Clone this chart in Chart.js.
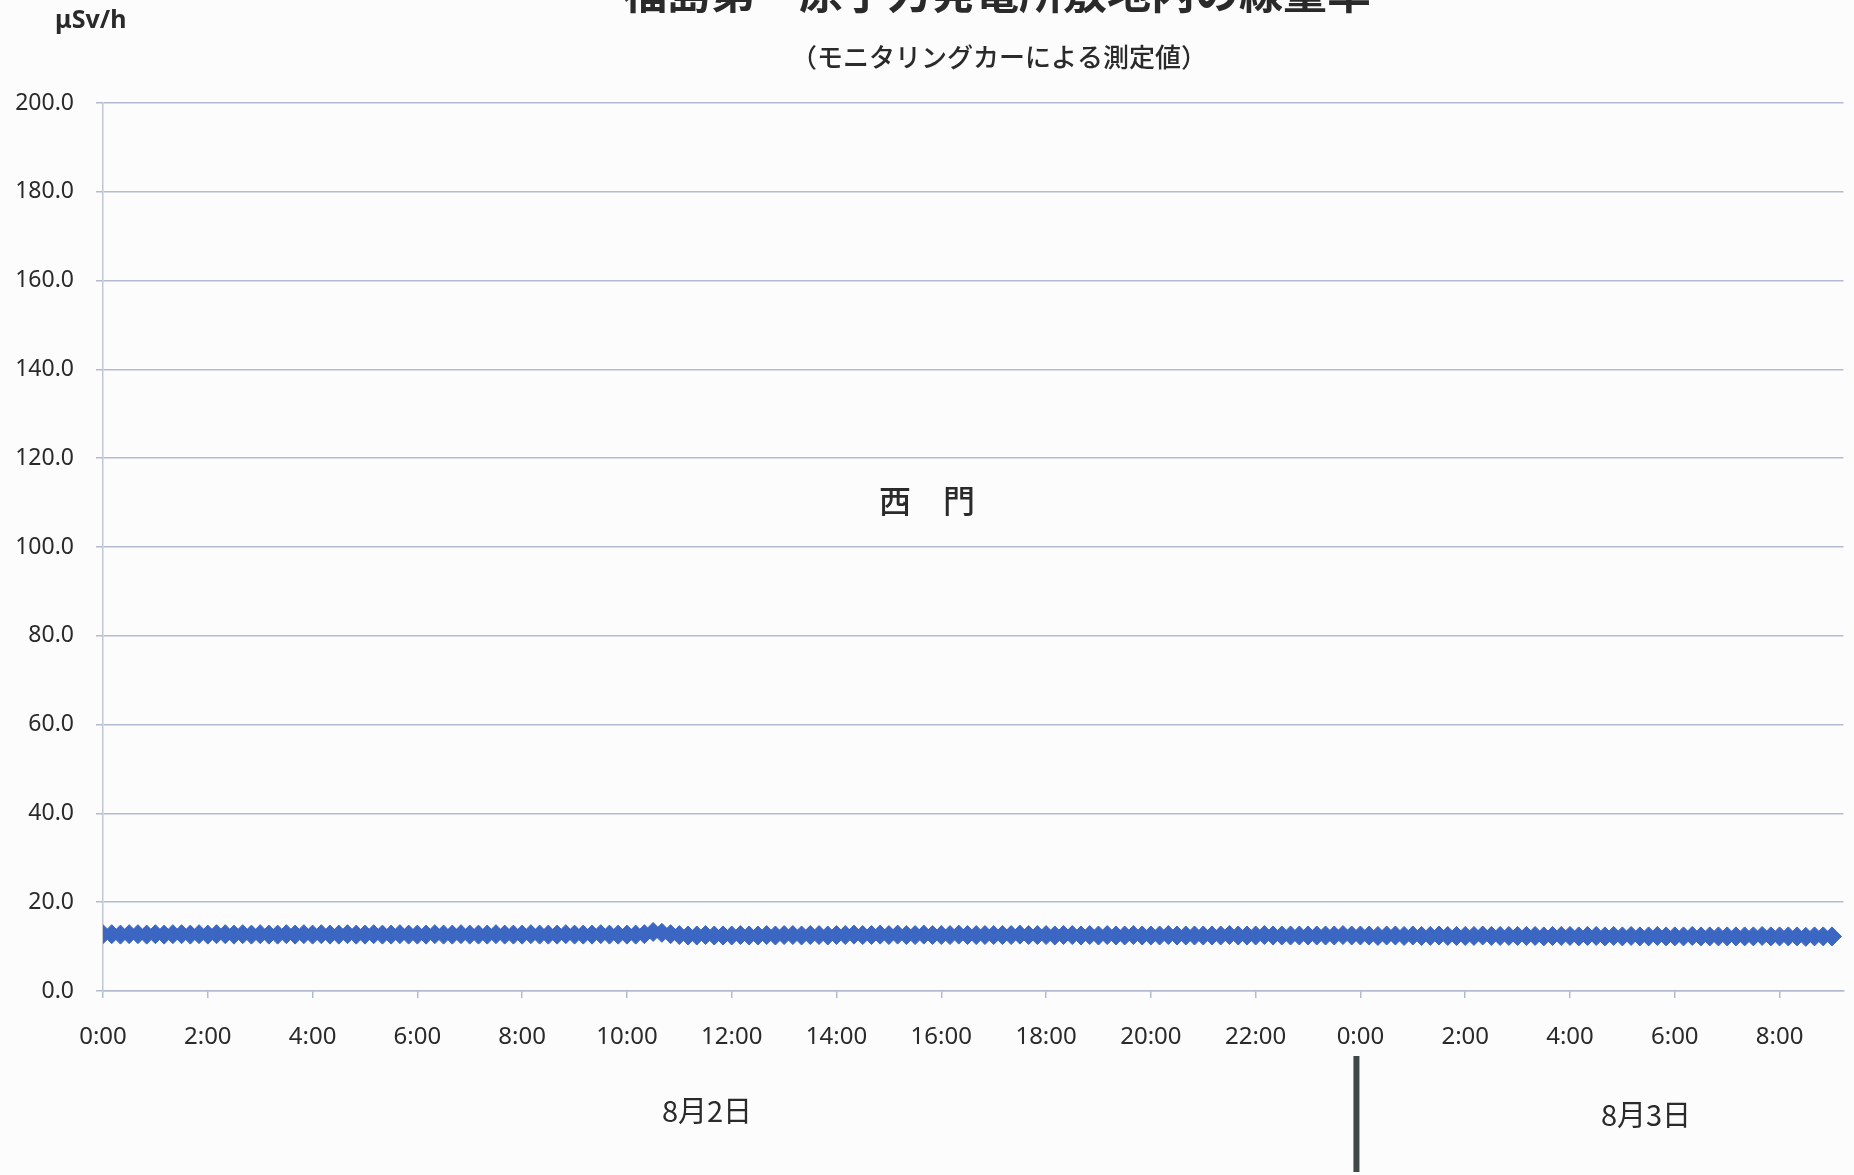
<!DOCTYPE html>
<html>
<head>
<meta charset="utf-8">
<script src="https://cdn.jsdelivr.net/npm/chart.js@4"></script>
<style>
  html, body { margin: 0; padding: 0; background: #fcfcfd; }
  #wrap { width: 1854px; height: 1175px; }
</style>
</head>
<body>
<div id="wrap"><canvas id="doseChart" width="1854" height="1175"></canvas></div>
<script>
// 線量率 (μSv/h), one reading every 10 minutes
// 8/2 0:00 - 23:50, one row per hour
const aug2Rates = [
  12.8, 12.8, 12.7, 12.8, 12.8, 12.7,
  12.8, 12.7, 12.8, 12.8, 12.7, 12.8,
  12.7, 12.8, 12.8, 12.7, 12.8, 12.7,
  12.8, 12.7, 12.7, 12.8, 12.7, 12.8,
  12.7, 12.8, 12.7, 12.7, 12.8, 12.7,
  12.7, 12.8, 12.7, 12.7, 12.8, 12.7,
  12.7, 12.7, 12.8, 12.7, 12.7, 12.8,
  12.7, 12.7, 12.7, 12.8, 12.7, 12.7,
  12.7, 12.8, 12.7, 12.7, 12.7, 12.8,
  12.7, 12.7, 12.7, 12.8, 12.7, 12.7,
  12.7, 12.7, 12.8, 13.3, 13.1, 12.8,
  12.6, 12.5, 12.5, 12.6, 12.5, 12.5,
  12.5, 12.6, 12.5, 12.5, 12.6, 12.5,
  12.6, 12.6, 12.5, 12.6, 12.6, 12.5,
  12.6, 12.6, 12.7, 12.6, 12.6, 12.7,
  12.6, 12.7, 12.6, 12.6, 12.7, 12.6,
  12.6, 12.6, 12.7, 12.6, 12.6, 12.6,
  12.6, 12.6, 12.6, 12.7, 12.6, 12.6,
  12.6, 12.5, 12.6, 12.6, 12.5, 12.6,
  12.5, 12.6, 12.5, 12.5, 12.6, 12.5,
  12.5, 12.5, 12.6, 12.5, 12.5, 12.5,
  12.5, 12.5, 12.5, 12.6, 12.5, 12.5,
  12.5, 12.6, 12.5, 12.5, 12.5, 12.5,
  12.5, 12.5, 12.5, 12.5, 12.6, 12.5
];
// 8/3 0:00 - 9:00
const aug3Rates = [
  12.5, 12.5, 12.4, 12.5, 12.5, 12.4,
  12.5, 12.4, 12.4, 12.5, 12.4, 12.4,
  12.4, 12.4, 12.5, 12.4, 12.4, 12.4,
  12.4, 12.4, 12.4, 12.3, 12.4, 12.4,
  12.4, 12.3, 12.4, 12.4, 12.3, 12.4,
  12.3, 12.4, 12.3, 12.3, 12.4, 12.3,
  12.3, 12.3, 12.4, 12.3, 12.3, 12.3,
  12.3, 12.3, 12.3, 12.3, 12.4, 12.3,
  12.3, 12.3, 12.3, 12.2, 12.3, 12.3,
  12.3
];
const stepMinutes = 10;

// axis labels, one every 2 hours
const tickLabels = ['0:00', '2:00', '4:00', '6:00', '8:00', '10:00', '12:00', '14:00', '16:00',
  '18:00', '20:00', '22:00', '0:00', '2:00', '4:00', '6:00', '8:00'];
const yTicks = [0, 20, 40, 60, 80, 100, 120, 140, 160, 180, 200];

const titleText = '福島第一原子力発電所敷地内の線量率';
const subtitleText = '（モニタリングカーによる測定値）';
const placeText = '西　門';
const dayLabels = ['8月2日', '8月3日'];

// build points: x in hours since 8/2 0:00
const allRates = aug2Rates.concat(aug3Rates);
const points = allRates.map((v, i) => ({ x: i * stepMinutes / 60, y: v }));

const gridColor = '#b3bbd0';
const jpFont = '"Noto Sans CJK JP", "Noto Sans", sans-serif';
const numFont = '"Noto Sans", "DejaVu Sans", sans-serif';

const textPlugin = {
  id: 'extraText',
  afterDraw(chart) {
    const c = chart.ctx;
    const x = chart.scales.x;
    c.save();
    c.fillStyle = '#2a2a2a';
    c.textAlign = 'center';
    c.textBaseline = 'middle';

    // title, cut off at the top edge like the scan
    c.font = 'bold 44px ' + jpFont;
    c.fillText(titleText, 997, -8);

    c.font = '500 26px ' + jpFont;
    c.fillText(subtitleText, 999, 57);

    c.font = 'bold 25px ' + numFont;
    c.textAlign = 'left';
    c.fillText('μSv/h', 55, 21);

    c.textAlign = 'center';
    c.font = '500 32px ' + jpFont;
    c.fillText(placeText, 927, 501);

    c.font = '29px ' + jpFont;
    c.fillText(dayLabels[0], 707, 1111);
    c.fillText(dayLabels[1], 1646, 1115);

    // day separator
    const sepX = x.getPixelForValue(24) - 4;
    c.fillStyle = '#3e4848';
    c.fillRect(sepX - 3, 1056, 6, 116);
    c.restore();
  }
};

const ctx = document.getElementById('doseChart').getContext('2d');
const doseChart = new Chart(ctx, {
  type: 'line',
  data: {
    datasets: [{
      label: '西門',
      data: points,
      borderColor: '#3b67c3',
      backgroundColor: '#3b67c3',
      borderWidth: 2,
      pointStyle: 'rectRot',
      pointRadius: 9.5,
      pointBorderWidth: 1,
      pointBorderColor: '#3b67c3',
      pointBackgroundColor: '#3b67c3'
    }]
  },
  options: {
    responsive: false,
    animation: false,
    devicePixelRatio: 1,
    layout: { padding: { top: 103, right: 4, left: 0, bottom: 0 } },
    plugins: {
      legend: { display: false },
      tooltip: { enabled: false }
    },
    scales: {
      x: {
        type: 'linear',
        min: 0,
        max: 33.22,
        afterFit: s => { s.height = 184; },
        afterBuildTicks: s => { s.ticks = tickLabels.map((t, i) => ({ value: i * 2 })); },
        ticks: {
          autoSkip: false,
          maxRotation: 0,
          padding: 25,
          color: '#2a2a2a',
          font: { family: numFont, size: 24 },
          callback: v => tickLabels[Math.round(v / 2)]
        },
        grid: {
          drawOnChartArea: false,
          drawTicks: true,
          tickLength: 7,
          color: gridColor,
          lineWidth: 1.5
        },
        border: { color: gridColor, width: 1.5 }
      },
      y: {
        min: 0,
        max: 200,
        afterFit: s => { s.width = 103; },
        afterBuildTicks: s => { s.ticks = yTicks.map(v => ({ value: v })); },
        ticks: {
          padding: 22,
          color: '#2a2a2a',
          font: { family: numFont, size: 23 },
          callback: v => v.toFixed(1)
        },
        grid: {
          color: gridColor,
          lineWidth: 1.5,
          tickLength: 7
        },
        border: { color: '#c2c6d2', width: 1.5 }
      }
    }
  },
  plugins: [textPlugin]
});
</script>
</body>
</html>
